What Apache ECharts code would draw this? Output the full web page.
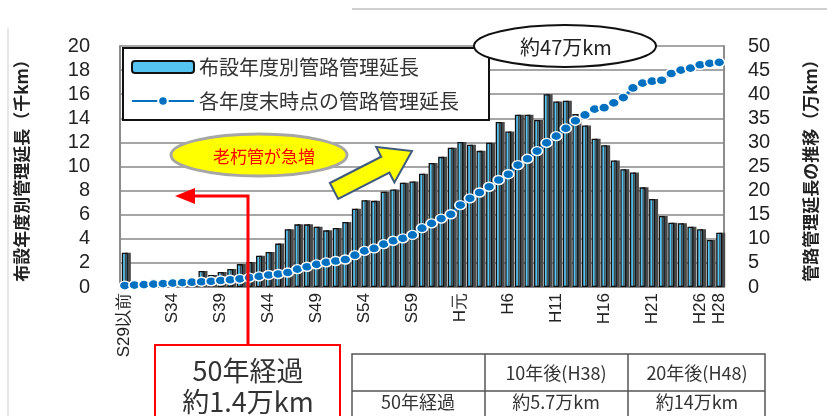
<!DOCTYPE html>
<html>
<head>
<meta charset="utf-8">
<script src="https://cdn.jsdelivr.net/npm/echarts@6/dist/echarts.min.js"></script>
<style>
  html, body { margin: 0; padding: 0; background: #fff; }
  #chart { width: 827px; height: 416px; }
</style>
</head>
<body>
<div id="chart"></div>
<script>
// 布設年度（S29以前〜H28）
const years = ['S29以前',
  'S30','S31','S32','S33','S34','S35','S36','S37','S38','S39',
  'S40','S41','S42','S43','S44','S45','S46','S47','S48','S49',
  'S50','S51','S52','S53','S54','S55','S56','S57','S58','S59',
  'S60','S61','S62','S63',
  'H元','H2','H3','H4','H5','H6','H7','H8','H9','H10',
  'H11','H12','H13','H14','H15','H16','H17','H18','H19','H20',
  'H21','H22','H23','H24','H25','H26','H27','H28'];

// 布設年度別管路管理延長（千km）
const laidLength = [2.85,
  0.2, 0.2, 0.3, 0.3, 0.3, 0.4, 0.4, 1.33, 1.0, 1.25,
  1.5, 1.9, 2.07, 2.6, 2.9, 3.6, 4.8, 5.2, 5.2, 5.0,
  4.7, 4.9, 5.4, 6.5, 7.2, 7.15, 7.9, 8.1, 8.65, 8.75,
  9.4, 10.3, 10.8, 11.56,
  12.03, 11.8, 11.3, 11.97, 13.7, 12.9, 14.3, 14.3, 13.86, 16.0,
  15.4, 15.46, 14.35, 13.4, 12.3, 11.76, 10.5, 9.77, 9.5, 8.27,
  7.3, 5.9, 5.34, 5.3, 5.0, 4.8, 3.9, 4.5];

// 各年度末時点の管路管理延長（万km）
const totalLength = [0.3,
  0.4, 0.5, 0.6, 0.7, 0.8, 0.9, 1.0, 1.1, 1.2, 1.35,
  1.5, 1.7, 1.95, 2.2, 2.5, 2.7, 3.0, 3.7, 4.2, 4.7,
  5.1, 5.4, 5.7, 6.6, 7.5, 8.0, 8.9, 9.6, 10.1, 10.8,
  12.2, 13.2, 14.2, 15.1,
  17.0, 18.4, 19.6, 20.8, 22.2, 23.4, 25.3, 26.6, 28.2, 29.9,
  31.3, 32.9, 34.5, 35.7, 36.9, 37.2, 38.2, 39.3, 41.3, 42.3,
  42.7, 42.9, 44.3, 45.0, 45.4, 46.1, 46.4, 46.6];

const seriesNames = ['布設年度別管路管理延長', '各年度末時点の管路管理延長'];
const leftAxisName = '布設年度別管理延長（千km）';
const rightAxisName = '管路管理延長の推移（万km）';

// 注記・表
const peakNote = '約47万km';
const agingNote = '老朽管が急増';
const nowLines = ['50年経過', '約1.4万km'];
const tableHead = ['10年後(H38)', '20年後(H48)'];
const tableRow = ['50年経過', '約5.7万km', '約14万km'];

const NUM_FONT = 'Liberation Sans, Arial, sans-serif';
const JP_FONT = '"Noto Sans CJK JP", sans-serif';

const chart = echarts.init(document.getElementById('chart'));

function txt(x, y, text, size, color, weight) {
  return {
    type: 'text', x: x, y: y, z: 110,
    style: {
      text: text, fill: color || '#333',
      font: (weight || 'normal') + ' ' + size + 'px ' + JP_FONT,
      align: 'center', verticalAlign: 'middle',
      textAlign: 'center', textVerticalAlign: 'middle'
    }
  };
}
function line(pts, color, w) {
  return { type: 'polyline', z: 105, shape: { points: pts },
    style: { stroke: color, lineWidth: w, fill: null } };
}

// 黄色の矢印（右上向き）
const arrowPts = [[329.9,183],[381.2,156.7],[376.2,146.9],[412,151],[394.4,182.5],[389.4,172.7],[338.1,199]];

chart.setOption({
  backgroundColor: '#fff',
  animation: false,
  grid: { left: 120, right: 89, top: 46, bottom: 129 },
  legend: {
    orient: 'vertical', left: 123, top: 48,
    backgroundColor: '#fff', borderColor: '#111', borderWidth: 2,
    padding: [9, 30, 9, 8],
    itemWidth: 62, itemHeight: 12, itemGap: 14,
    textStyle: { fontSize: 20, color: '#333', fontFamily: JP_FONT },
    data: [
      { name: seriesNames[0], itemStyle: { shadowColor: 'transparent', shadowOffsetX: 0 } },
      { name: seriesNames[1] }
    ]
  },
  xAxis: {
    type: 'category', data: years,
    axisLine: { lineStyle: { color: '#8c8c8c', width: 2 } },
    axisTick: { show: false },
    axisLabel: {
      rotate: 90, fontSize: 17, color: '#222', fontFamily: NUM_FONT, margin: 6,
      interval: function (i) { return i % 5 === 0 || i === years.length - 1; }
    }
  },
  yAxis: [
    {
      type: 'value', min: 0, max: 20, interval: 2,
      name: leftAxisName, nameLocation: 'middle', nameRotate: 90, nameGap: 90,
      nameTextStyle: { fontSize: 17, fontWeight: 'bold', color: '#222', fontFamily: JP_FONT },
      axisLine: { show: true, lineStyle: { color: '#8c8c8c', width: 2 } },
      axisTick: { show: false },
      axisLabel: { fontSize: 20, color: '#222', fontFamily: NUM_FONT, margin: 30 },
      splitLine: { lineStyle: { color: '#a6a6a6', width: 2 } }
    },
    {
      type: 'value', min: 0, max: 50, interval: 5, position: 'right',
      name: rightAxisName, nameLocation: 'middle', nameRotate: 90, nameGap: 78,
      nameTextStyle: { fontSize: 17, fontWeight: 'bold', color: '#222', fontFamily: JP_FONT },
      axisLine: { show: true, lineStyle: { color: '#8c8c8c', width: 2 } },
      axisTick: { show: false },
      axisLabel: { fontSize: 20, color: '#222', fontFamily: NUM_FONT, margin: 24 },
      splitLine: { show: false }
    }
  ],
  series: [
    {
      name: seriesNames[0], type: 'bar', yAxisIndex: 0,
      data: laidLength, barWidth: 6,
      itemStyle: {
        color: '#55c4f2', borderColor: '#111', borderWidth: 1.3,
        shadowColor: '#4a4a4a', shadowOffsetX: 3, shadowOffsetY: 0, shadowBlur: 0
      }
    },
    {
      name: seriesNames[1], type: 'line', yAxisIndex: 1,
      data: totalLength, z: 5,
      symbol: 'circle', symbolSize: [11, 9], showSymbol: true, showAllSymbol: true,
      lineStyle: { color: '#0070c0', width: 3 },
      itemStyle: { color: '#0070c0', borderColor: '#fff', borderWidth: 1.5 }
    }
  ],
  graphic: [
    // 枠外の線
    line([[352, 9], [827, 9]], '#a0a0a0', 1),
    line([[8, 28], [8, 416]], '#cfcfcf', 1),
    // 約47万km
    { type: 'ellipse', z: 100, shape: { cx: 565, cy: 46, rx: 91, ry: 21 },
      style: { fill: '#fff', stroke: '#111', lineWidth: 2 } },
    txt(566, 47, peakNote, 20, '#222'),
    // 老朽管が急増
    { type: 'ellipse', z: 100, shape: { cx: 259, cy: 155, rx: 88, ry: 21 },
      style: { fill: '#ffff00', stroke: '#a6a6a6', lineWidth: 3 } },
    txt(264, 157, agingNote, 17, '#ff0000'),
    { type: 'polygon', z: 100, shape: { points: arrowPts },
      style: { fill: '#ffff00', stroke: '#3e5a7e', lineWidth: 2 } },
    // 赤い矢印
    line([[248, 346], [248, 196], [192, 196]], '#ff0000', 3),
    { type: 'polygon', z: 105, shape: { points: [[175, 196], [195, 188], [195, 204]] },
      style: { fill: '#ff0000' } },
    // 50年経過の枠
    { type: 'rect', z: 100, shape: { x: 155, y: 345, width: 185, height: 90 },
      style: { fill: '#fff', stroke: '#ff0000', lineWidth: 2 } },
    txt(248, 371, nowLines[0], 27, '#333'),
    txt(248, 402, nowLines[1], 27, '#333'),
    // 表
    { type: 'rect', z: 100, shape: { x: 352, y: 354, width: 413, height: 80 },
      style: { fill: '#fff', stroke: '#555', lineWidth: 1.5 } },
    line([[352, 391], [765, 391]], '#555', 1.5),
    line([[485, 354], [485, 416]], '#555', 1.5),
    line([[628, 354], [628, 416]], '#555', 1.5),
    txt(556, 373, tableHead[0], 18, '#333'),
    txt(697, 373, tableHead[1], 18, '#333'),
    txt(418, 402, tableRow[0], 18, '#333'),
    txt(556, 402, tableRow[1], 18, '#333'),
    txt(697, 402, tableRow[2], 18, '#333')
  ]
});
</script>
</body>
</html>
